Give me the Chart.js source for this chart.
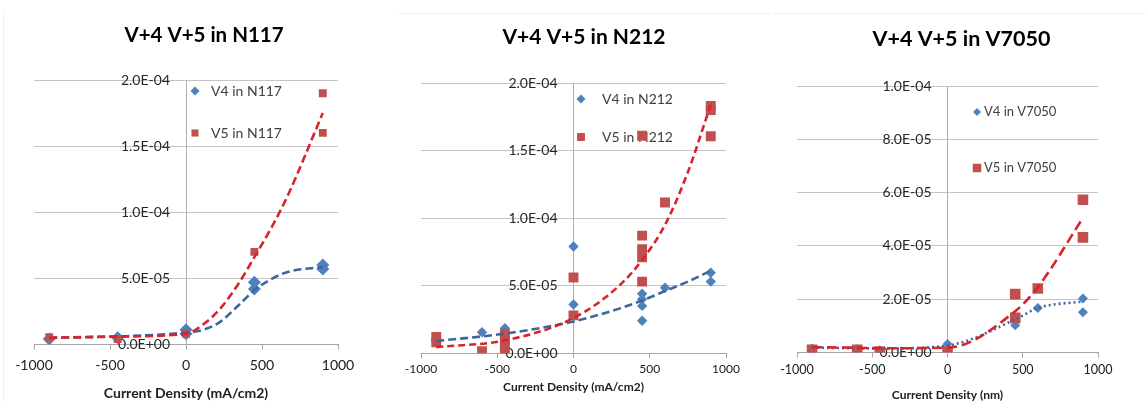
<!DOCTYPE html>
<html><head><meta charset="utf-8">
<script src="https://cdn.jsdelivr.net/npm/chart.js@4.4.1/dist/chart.umd.min.js"></script>
<style>
html,body{margin:0;padding:0;background:#fff;}
body{width:1145px;height:402px;position:relative;overflow:hidden;}
.box{position:absolute;top:0;height:402px;}
.edge{position:absolute;background:#efefef;}
canvas{display:block;}
</style></head><body>
<div class="edge" style="left:3px;top:10px;width:1px;height:392px"></div>
<div class="edge" style="left:398px;top:13px;width:372px;height:1px"></div>
<div class="edge" style="left:773px;top:13px;width:372px;height:1px"></div>
<div class="box" style="left:0;width:408px"><canvas id="c1" width="408" height="402"></canvas></div>
<div class="box" style="left:400px;width:368px"><canvas id="c2" width="368" height="402"></canvas></div>
<div class="box" style="left:775px;width:370px"><canvas id="c3" width="370" height="402"></canvas></div>
<script>
// ---------------- data ----------------
const xTickValues = [-1000, -500, 0, 500, 1000];

// N117
const n117V4X = [-900, -450, 0, 0, 450, 450, 900, 900];
const n117V4Y = [4e-6, 5e-6, 1.1e-5, 8e-6, 4.7e-5, 4.2e-5, 6.0e-5, 5.7e-5];
const n117V5X = [-900, -450, 0, 450, 900, 900];
const n117V5Y = [5.5e-6, 4e-6, 8e-6, 7.0e-5, 1.9e-4, 1.6e-4];
const n117TrendX = [-900, -450, 0, 112, 225, 340, 450, 570, 675, 900];
const n117V4Trend = [5e-6, 6e-6, 9e-6, 1.1e-5, 1.7e-5, 2.9e-5, 4.1e-5, 5.0e-5, 5.5e-5, 5.85e-5];
const n117V5Trend = [5e-6, 6e-6, 8e-6, 1.5e-5, 2.7e-5, 4.5e-5, 6.6e-5, 9.0e-5, 1.14e-4, 1.75e-4];

// N212
const n212V4X = [-900, -600, -450, -450, 0, 0, 450, 450, 450, 450, 600, 900, 900];
const n212V4Y = [9e-6, 1.55e-5, 1.85e-5, 1.5e-5, 7.9e-5, 3.6e-5, 4.4e-5, 4.0e-5, 3.5e-5, 2.4e-5, 4.85e-5, 5.95e-5, 5.3e-5];
const n212V5X = [-900, -900, -600, -450, -450, -450, -450, 0, 0, 450, 450, 450, 450, 450, 600, 900, 900, 900];
const n212V5Y = [1.2e-5, 8e-6, 1.5e-6, 1.45e-5, 1.0e-5, 5e-6, 1e-6, 5.6e-5, 2.8e-5, 1.61e-4, 8.7e-5, 7.7e-5, 7.1e-5, 5.3e-5, 1.115e-4, 1.83e-4, 1.8e-4, 1.606e-4];
const n212TrendX = [-900, -450, 0, 300, 450, 600, 750, 900];
const n212V4Trend = [9e-6, 1.45e-5, 2.35e-5, 3.3e-5, 3.9e-5, 4.6e-5, 5.3e-5, 6.1e-5];
const n212V5Trend = [4.5e-6, 9.5e-6, 2.6e-5, 5.0e-5, 6.9e-5, 9.5e-5, 1.34e-4, 1.84e-4];

// V7050
const v7050V4X = [-900, -600, -450, 0, 450, 600, 900, 900];
const v7050V4Y = [1.5e-6, 1.2e-6, 8e-7, 3.2e-6, 1.02e-5, 1.67e-5, 2.03e-5, 1.51e-5];
const v7050V5X = [-900, -600, -450, 0, 450, 450, 600, 900, 900];
const v7050V5Y = [1.0e-6, 1.0e-6, 4e-7, 4e-7, 2.19e-5, 1.3e-5, 2.4e-5, 5.73e-5, 4.32e-5];
const v7050TrendX = [-900, -600, -450, 0, 450, 600, 900];
const v7050V4Trend = [1.8e-6, 1.6e-6, 1.5e-6, 2.6e-6, 1.24e-5, 1.67e-5, 1.92e-5];
const v7050V5Trend = [2.0e-6, 1.8e-6, 1.6e-6, 1.8e-6, 1.55e-5, 2.45e-5, 5.05e-5];

// ---------------- helpers ----------------
const pts = (xs, ys) => xs.map((x, i) => ({x: x, y: ys[i]}));
function sci(v) {
  if (Math.abs(v) < 1e-15) return '0.0E+00';
  const e = Math.floor(Math.log10(Math.abs(v)) + 1e-9);
  const m = v / Math.pow(10, e);
  return m.toFixed(1) + 'E' + (e < 0 ? '-' : '+') + String(Math.abs(e)).padStart(2, '0');
}
const BLUE = '#4F81BD', RED = '#C0504D', RED_LINE = '#D8232A', BLUE_LINE = '#3A679E';
const FONT = 'Lato, "Open Sans", sans-serif';

const insetLegend = {
  id: 'insetLegend',
  beforeDatasetsDraw(chart, args, o) {
    if (!o || !o.items) return;
    const ctx = chart.ctx, a = chart.chartArea;
    ctx.save();
    // chart title
    ctx.fillStyle = '#000';
    ctx.font = 'bold ' + o.titleSize + 'px ' + FONT;
    ctx.textAlign = 'center';
    ctx.textBaseline = 'middle';
    ctx.fillText(o.title, o.titleX, o.titleY);
    // y tick labels, beside the axis that crosses at x = 0
    const ys = chart.scales.y, axisX = chart.scales.x.getPixelForValue(0);
    ctx.fillStyle = '#262626';
    ctx.font = o.yFont + 'px ' + FONT;
    ctx.textAlign = 'right';
    ys.ticks.forEach(t => ctx.fillText(sci(t.value), axisX - o.yGap, ys.getPixelForValue(t.value)));
    // legend
    o.items.forEach((it, i) => {
      const y = a.top + o.dy[i];
      ctx.fillStyle = it.color;
      Chart.helpers.drawPoint(ctx, {pointStyle: it.style, radius: it.radius, rotation: 0, borderWidth: 0}, a.left + o.markerDx, y);
      ctx.fillStyle = '#404040';
      ctx.font = o.fontSize + 'px ' + FONT;
      ctx.textAlign = 'left';
      ctx.fillText(it.text, a.left + o.textDx, y);
    });
    ctx.restore();
  }
};

function makeChart(id, c) {
  new Chart(document.getElementById(id), {
    type: 'scatter',
    data: {
      datasets: [
        {type: 'line', data: pts(c.trendX, c.v5Trend), borderColor: RED_LINE, borderWidth: 2.6, borderDash: c.redDash, pointRadius: 0, fill: false, cubicInterpolationMode: 'monotone'},
        {type: 'line', data: pts(c.trendX, c.v4Trend), borderColor: BLUE_LINE, borderWidth: 2.6, borderDash: c.blueDash, pointRadius: 0, fill: false, cubicInterpolationMode: 'monotone'},
        {data: pts(c.v5X, c.v5Y), pointStyle: 'rect', pointRadius: c.sqR, backgroundColor: RED, borderWidth: 0, pointBorderWidth: 0},
        {data: pts(c.v4X, c.v4Y), pointStyle: 'rectRot', pointRadius: c.diaR, backgroundColor: BLUE, borderWidth: 0, pointBorderWidth: 0}
      ]
    },
    options: {
      responsive: false, animation: false, events: [],
      layout: {padding: c.pad},
      plugins: {
        legend: {display: false}, tooltip: {enabled: false}, title: {display: false},
        insetLegend: c.legend
      },
      scales: {
        x: {
          type: 'linear', min: -1000, max: 1000,
          afterBuildTicks: s => { s.ticks = xTickValues.map(v => ({value: v})); },
          grid: {drawOnChartArea: false, drawTicks: true, tickLength: 5, color: '#a6a6a6'},
          border: {color: '#a6a6a6', width: 1},
          ticks: {color: '#202020', font: {family: FONT, size: c.xFont}, padding: c.xTickPad, maxRotation: 0, callback: v => String(v)},
          title: {display: true, text: c.xTitle, color: '#202020', font: {family: FONT, size: c.xTitleFont, weight: 'bold', lineHeight: 1.2}, padding: c.xTitlePad}
        },
        y: {
          type: 'linear', min: 0, max: c.yMax, position: {x: 0},
          afterBuildTicks: s => { s.ticks = c.yTicks.map(v => ({value: v})); },
          grid: {drawTicks: false, color: '#c4c4c4'},
          border: {color: '#b0b0b0', width: 1},
          ticks: {display: false}
        }
      }
    },
    plugins: [insetLegend]
  });
}

makeChart('c1', {
  xTitle: 'Current Density (mA/cm2)',
  v4X: n117V4X, v4Y: n117V4Y, v5X: n117V5X, v5Y: n117V5Y,
  trendX: n117TrendX, v4Trend: n117V4Trend, v5Trend: n117V5Trend,
  yMax: 2e-4, yTicks: [0, 5e-5, 1e-4, 1.5e-4, 2e-4],
  pad: {left: 34, right: 70, top: 80, bottom: 0.6},
  xFont: 14, xTickPad: 7.6, xTitleFont: 14, xTitlePad: {top: 3.2, bottom: 0},
  diaR: 6.5, sqR: 5.6, redDash: [8, 4], blueDash: [8, 4],
  legend: {title: 'V+4 V+5 in N117', titleSize: 20.5, titleX: 204, titleY: 35, yFont: 14, yGap: 16,
    markerDx: 161, textDx: 177, dy: [11, 53], fontSize: 14,
    items: [{text: 'V4 in N117', color: BLUE, style: 'rectRot', radius: 4.5}, {text: 'V5 in N117', color: RED, style: 'rect', radius: 5}]}
});
makeChart('c2', {
  xTitle: 'Current Density (mA/cm2)',
  v4X: n212V4X, v4Y: n212V4Y, v5X: n212V5X, v5Y: n212V5Y,
  trendX: n212TrendX, v4Trend: n212V4Trend, v5Trend: n212V5Trend,
  yMax: 2e-4, yTicks: [0, 5e-5, 1e-4, 1.5e-4, 2e-4],
  pad: {left: 21, right: 42, top: 83, bottom: 7.4},
  xFont: 12, xTickPad: 3.8, xTitleFont: 12, xTitlePad: {top: 0, bottom: 0},
  diaR: 5.2, sqR: 7, redDash: [7, 4], blueDash: [8, 4],
  legend: {title: 'V+4 V+5 in N212', titleSize: 21, titleX: 184, titleY: 37, yFont: 14, yGap: 16,
    markerDx: 160, textDx: 181, dy: [16, 54], fontSize: 14,
    items: [{text: 'V4 in N212', color: BLUE, style: 'rectRot', radius: 4.5}, {text: 'V5 in N212', color: RED, style: 'rect', radius: 5.6}]}
});
makeChart('c3', {
  xTitle: 'Current Density (nm)',
  v4X: v7050V4X, v4Y: v7050V4Y, v5X: v7050V5X, v5Y: v7050V5Y,
  trendX: v7050TrendX, v4Trend: v7050V4Trend, v5Trend: v7050V5Trend,
  yMax: 1e-4, yTicks: [0, 2e-5, 4e-5, 6e-5, 8e-5, 1e-4],
  pad: {left: 22, right: 47, top: 86, bottom: 0},
  xFont: 12.5, xTickPad: 4.5, xTitleFont: 12, xTitlePad: {top: 6.1, bottom: 0},
  diaR: 5, sqR: 7.5, redDash: [10, 5], blueDash: [2, 3],
  legend: {title: 'V+4 V+5 in V7050', titleSize: 21.5, titleX: 186.5, titleY: 39, yFont: 14, yGap: 16,
    markerDx: 180, textDx: 187, dy: [26, 82], fontSize: 13,
    items: [{text: 'V4 in V7050', color: BLUE, style: 'rectRot', radius: 4}, {text: 'V5 in V7050', color: RED, style: 'rect', radius: 6}]}
});
</script>
</body></html>
